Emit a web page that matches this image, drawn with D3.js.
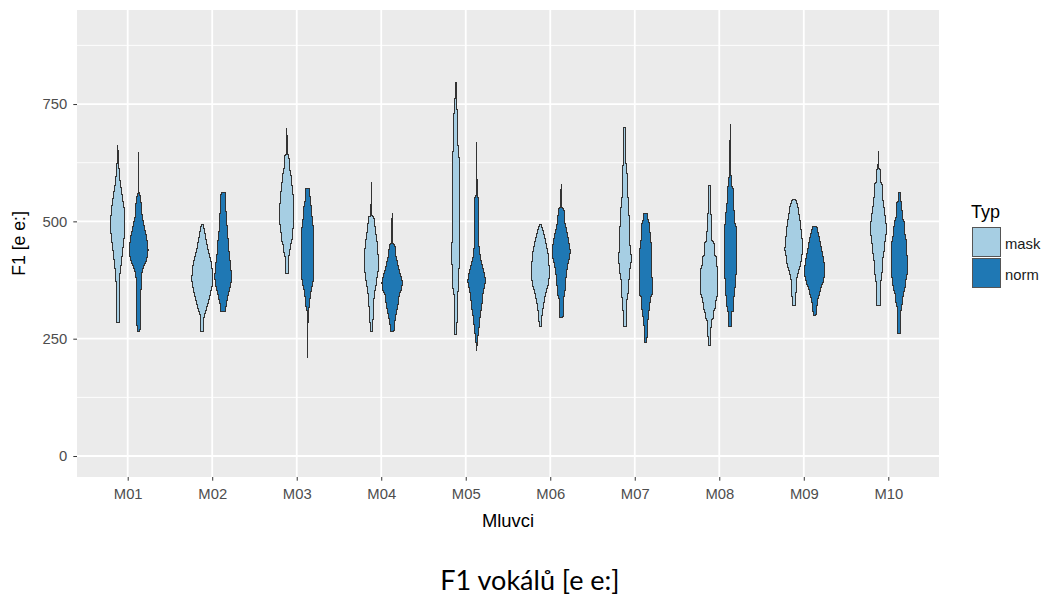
<!DOCTYPE html>
<html>
<head>
<meta charset="utf-8">
<script src="https://cdn.jsdelivr.net/npm/d3@7"></script>
<style>
  html, body { margin: 0; padding: 0; background: #ffffff; }
  svg { display: block; }
</style>
</head>
<body>
<svg id="chart" width="1053" height="599"></svg>
<script>
// Speakers on the x axis and the two recording types
const categories = ["M01", "M02", "M03", "M04", "M05", "M06", "M07", "M08", "M09", "M10"];
const groups = ["mask", "norm"];
const groupColors = ["#a6cee3", "#1f78b4"];
const yTicks = [0, 250, 500, 750];
const yMinor = [125, 375, 625, 875];

// Violin profiles per speaker: [F1 in Hz, relative density]
const maskDensity = [
  [[665,0],[632,0.5],[612,1.2],[590,2],[567,3.5],[531,6],[506,7],[482,7],[453,5.5],[425,4],[395,2.5],[385,1.8],[300,1.6],[285,1.5]],
  [[494,0.8],[485,1.7],[470,3],[446,5],[410,9],[382,10.3],[368,10],[339,7],[318,4.5],[300,2],[292,1.3],[267,1.3]],
  [[702,0],[645,0.5],[640,2],[617,2.5],[600,4],[578,5],[560,6],[530,7],[500,7],[485,6],[460,5],[450,3.5],[430,2.5],[425,1.7],[389,1.7]],
  [[586,0],[514,0.5],[510,2.5],[492,3.5],[470,4.7],[450,6],[420,6.8],[400,7.2],[390,6],[370,5],[355,3.7],[335,2.5],[300,2],[285,1.3],[266,1.2]],
  [[796,0.6],[740,1],[734,1.8],[665,2],[655,2.7],[627,3.3],[500,3.5],[450,3.8],[410,3.8],[400,3],[360,3],[350,2],[340,1.6],[290,1.5],[285,1],[261,1]],
  [[494,1],[485,2],[470,4],[450,6],[430,7.7],[400,8.7],[380,8.5],[365,7.5],[350,5.5],[335,4],[315,2.5],[300,1.5],[278,1.2]],
  [[702,1],[624,1.1],[620,2],[555,2.3],[550,3.5],[515,4],[500,4.7],[450,5],[430,6],[414,6],[400,5],[380,4.5],[375,3.3],[340,3],[335,2],[308,1.8],[300,1.3],[278,1.2]],
  [[578,0.8],[518,1],[515,2.2],[460,2.4],[455,4.5],[430,5],[425,6.7],[408,7],[400,8.3],[345,8.3],[336,6.7],[315,5.5],[310,4.5],[294,3.5],[290,2.2],[273,1.5],[237,1.2]],
  [[548,1.5],[540,2.8],[531,4],[510,5.3],[497,6.5],[475,7.3],[455,8.5],[440,8.8],[426,7.5],[410,6.7],[398,5],[385,3.5],[375,2.5],[345,2],[335,1.5],[322,1.3]],
  [[652,0],[613,0.5],[610,2],[585,2.3],[580,3.5],[545,4.5],[530,5.5],[505,7],[490,7.7],[475,7.5],[460,6.5],[440,5.8],[424,4.5],[400,3.8],[380,3],[370,2],[322,1.8]]
];
const normDensity = [
  [[651,0],[563,0.3],[555,1.5],[540,2.5],[510,3.5],[490,5.5],[465,8],[440,9.3],[420,8],[405,5],[395,3.5],[380,2.5],[300,2],[275,1.5],[267,1.2]],
  [[563,2],[530,2.5],[509,3.5],[480,4],[460,5],[430,6],[412,7],[385,8.2],[365,7.5],[355,6],[340,4.5],[325,3],[308,2.5]],
  [[572,2],[545,2.5],[530,3.7],[500,4.7],[480,6],[420,6.2],[385,6.2],[370,5],[355,3.5],[340,2.5],[320,1.7],[310,0.5],[212,0]],
  [[521,0],[455,0.6],[450,2.7],[430,3.5],[415,5],[400,6.5],[385,8.5],[371,10],[355,9],[345,7],[320,5.5],[300,3.5],[280,2],[266,1.8]],
  [[671,0],[556,0.5],[550,1.8],[450,2],[440,3],[425,3.5],[410,5],[395,7],[375,8.7],[360,7.5],[345,6],[320,5],[300,3.5],[280,2.5],[265,1.8],[254,1],[226,0]],
  [[581,0],[531,0.6],[528,2.7],[499,3.5],[485,5],[464,7],[440,8.8],[425,8.5],[414,7],[400,5.8],[378,4.5],[345,3.5],[336,2],[297,1.8]],
  [[518,2],[505,2.2],[495,4],[460,4.5],[455,5.5],[390,5.7],[380,6.3],[345,6.5],[340,4.5],[315,4],[310,2.8],[294,2.5],[290,1.8],[273,1.5],[242,1.2]],
  [[709,0],[602,0.5],[598,1],[577,1.7],[570,2.8],[528,3.2],[520,4.2],[499,4.5],[490,5.8],[390,5.8],[379,5],[345,4.5],[340,3.3],[310,3],[308,1.5],[278,1.3]],
  [[491,2],[480,3],[467,4.5],[450,6],[439,7],[425,8.3],[400,10],[385,9.5],[370,8],[360,6],[345,4.5],[335,3],[318,2],[300,1.2]],
  [[563,0.8],[545,1],[540,2.5],[510,3],[500,4.8],[475,5.5],[460,7],[420,7.8],[390,7.8],[375,6.5],[360,5.8],[347,4],[330,3.3],[318,2],[304,1.5],[262,1.2]]
];
const densities = [maskDensity, normDensity];

const svg = d3.select("#chart");
const panel = { left: 77, right: 939, top: 10, bottom: 477 };

const x = d3.scalePoint().domain(categories).range([panel.left, panel.right]).padding(0.6);
const y = d3.scaleLinear().domain([-44.7, 950.4]).range([panel.bottom, panel.top]);
const dodge = d3.scaleBand().domain(groups).range([-x.step() * 0.246, x.step() * 0.246]);
const halfWidth = d3.scaleLinear().domain([0, 10]).range([0, x.step() * 0.121]);

// Panel background and grid
svg.append("rect")
  .attr("x", panel.left).attr("y", panel.top)
  .attr("width", panel.right - panel.left).attr("height", panel.bottom - panel.top)
  .attr("fill", "#ebebeb");

const grid = svg.append("g");
grid.selectAll("line.minor").data(yMinor).join("line")
  .attr("x1", panel.left).attr("x2", panel.right)
  .attr("y1", d => y(d)).attr("y2", d => y(d))
  .attr("stroke", "#ffffff").attr("stroke-width", 0.9);
grid.selectAll("line.majorY").data(yTicks).join("line")
  .attr("x1", panel.left).attr("x2", panel.right)
  .attr("y1", d => y(d)).attr("y2", d => y(d))
  .attr("stroke", "#ffffff").attr("stroke-width", 1.8);
grid.selectAll("line.majorX").data(categories).join("line")
  .attr("x1", d => x(d)).attr("x2", d => x(d))
  .attr("y1", panel.top).attr("y2", panel.bottom)
  .attr("stroke", "#ffffff").attr("stroke-width", 1.8);

// Violin outline traced row by row on the pixel grid (stair-stepped edges)
function violinPath(profile, cx) {
  const sorted = profile.slice().sort((a, b) => b[0] - a[0]);
  const dens = d3.scaleLinear().domain(sorted.map(d => d[0])).range(sorted.map(d => d[1])).clamp(true);
  const yTop = Math.round(y(sorted[0][0]));
  const yBot = Math.round(y(sorted[sorted.length - 1][0]));
  const rows = d3.range(yTop, yBot).map(r => {
    const hw = halfWidth(dens(y.invert(r + 0.5)));
    return { r, l: Math.round(cx - hw) + 0.5, rt: Math.round(cx + hw) + 0.5 };
  });
  const left = [], right = [];
  rows.forEach(d => {
    left.push([d.l, d.r + 0.5], [d.l, d.r + 1.5]);
    right.push([d.rt, d.r + 0.5], [d.rt, d.r + 1.5]);
  });
  const pts = left.concat(right.reverse());
  return "M" + pts.map(p => p.join(",")).join("L") + "Z";
}

const violins = svg.append("g");
groups.forEach((g, gi) => {
  categories.forEach((c, ci) => {
    const cx = x(c) + dodge(g) + dodge.bandwidth() / 2;
    violins.append("path")
      .attr("d", violinPath(densities[gi][ci], cx))
      .attr("fill", groupColors[gi])
      .attr("stroke", "#333333")
      .attr("stroke-width", 1)
      .attr("shape-rendering", "crispEdges");
  });
});

// Axes
const axisFont = "Arial, 'Liberation Sans', sans-serif";
const yAxis = svg.append("g").attr("transform", `translate(${panel.left},0)`)
  .call(d3.axisLeft(y).tickValues(yTicks).tickSize(3.7).tickPadding(6));
const xAxis = svg.append("g").attr("transform", `translate(0,${panel.bottom})`)
  .call(d3.axisBottom(x).tickSize(3.7).tickPadding(8));
[xAxis, yAxis].forEach(a => {
  a.attr("font-family", axisFont).attr("font-size", 14.8);
  a.select(".domain").remove();
  a.selectAll(".tick line").attr("stroke", "#333333").attr("stroke-width", 1);
  a.selectAll(".tick text").attr("fill", "#4d4d4d");
});

svg.append("text")
  .attr("x", (panel.left + panel.right) / 2).attr("y", 527)
  .attr("text-anchor", "middle")
  .attr("font-family", axisFont).attr("font-size", 18.4)
  .text("Mluvci");

svg.append("text")
  .attr("transform", `translate(25,${(panel.top + panel.bottom) / 2}) rotate(-90)`)
  .attr("text-anchor", "middle")
  .attr("font-family", axisFont).attr("font-size", 17.6)
  .text("F1 [e e:]");

// Legend
const legend = svg.append("g").attr("transform", "translate(971,0)");
legend.append("text").attr("x", 0).attr("y", 218)
  .attr("font-family", axisFont).attr("font-size", 18)
  .text("Typ");
const keys = legend.selectAll("g.key").data(groups).join("g")
  .attr("transform", (d, i) => `translate(0,${227 + i * 31})`);
keys.append("rect")
  .attr("x", 1.5).attr("y", 0.5).attr("width", 28).attr("height", 29)
  .attr("fill", (d, i) => groupColors[i])
  .attr("stroke", "#555555").attr("stroke-width", 1);
keys.append("text")
  .attr("x", 34).attr("y", 22)
  .attr("font-family", axisFont).attr("font-size", 14.8)
  .attr("fill", "#1a1a1a")
  .text(d => d);

// Caption
svg.append("text")
  .attr("x", 530).attr("y", 590)
  .attr("text-anchor", "middle")
  .attr("font-family", "Lato, 'Open Sans', sans-serif").attr("font-size", 27)
  .attr("fill", "#000000")
  .text("F1 vokálů [e e:]");
</script>
</body>
</html>
